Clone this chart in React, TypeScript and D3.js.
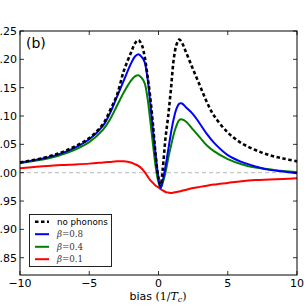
import React, { useEffect, useRef } from 'react';
import * as d3 from 'd3';

// bias grid shared by all curves (units of 1/T_c)
const bias = [-10, -8, -6.5, -5, -4, -3.5, -3, -2.5, -2, -1.7, -1.45, -1.2, -1.0, -0.8, -0.6, -0.4, -0.2, 0, 0.15, 0.3, 0.5, 0.7, 0.9, 1.1, 1.3, 1.5, 1.7, 2, 2.5, 3, 3.5, 4, 5, 6, 7, 8, 9, 10];

const noPhonons = [1.018, 1.028, 1.041, 1.061, 1.086, 1.11, 1.137, 1.18, 1.211, 1.228, 1.234, 1.225, 1.205, 1.172, 1.134, 1.085, 1.03, 0.99, 0.978, 1.005, 1.06, 1.10, 1.148, 1.2, 1.226, 1.235, 1.229, 1.212, 1.182, 1.153, 1.124, 1.101, 1.071, 1.052, 1.04, 1.031, 1.025, 1.02];
const beta08 = [1.018, 1.027, 1.039, 1.059, 1.083, 1.105, 1.134, 1.163, 1.192, 1.205, 1.209, 1.204, 1.195, 1.168, 1.125, 1.075, 1.03, 0.99, 0.973, 0.985, 1.01, 1.04, 1.07, 1.095, 1.113, 1.122, 1.122, 1.115, 1.103, 1.086, 1.068, 1.053, 1.031, 1.019, 1.011, 1.005, 1.002, 0.999];
const beta04 = [1.017, 1.025, 1.036, 1.054, 1.076, 1.094, 1.118, 1.142, 1.162, 1.17, 1.172, 1.167, 1.158, 1.133, 1.093, 1.05, 1.01, 0.983, 0.973, 0.982, 1.0, 1.025, 1.047, 1.068, 1.083, 1.093, 1.094, 1.09, 1.076, 1.062, 1.048, 1.038, 1.024, 1.015, 1.009, 1.006, 1.003, 1.001];
const beta01 = [1.008, 1.012, 1.014, 1.016, 1.018, 1.019, 1.02, 1.02, 1.018, 1.015, 1.012, 1.007, 1.001, 0.994, 0.987, 0.982, 0.977, 0.974, 0.971, 0.969, 0.966, 0.965, 0.964, 0.965, 0.966, 0.967, 0.968, 0.97, 0.973, 0.975, 0.977, 0.979, 0.982, 0.985, 0.987, 0.988, 0.989, 0.99];

const xTicks = [-10, -5, 0, 5, 10];
const yTicks = [0.85, 0.9, 0.95, 1.0, 1.05, 1.1, 1.15, 1.2, 1.25];

const series = [
  { key: 'no phonons', values: noPhonons, color: '#000000', dashed: true, beta: '' },
  { key: 'b08', values: beta08, color: '#0000ff', dashed: false, beta: '0.8' },
  { key: 'b04', values: beta04, color: '#008000', dashed: false, beta: '0.4' },
  { key: 'b01', values: beta01, color: '#ff0000', dashed: false, beta: '0.1' },
];

const W = 308;
const H = 306;

const App: React.FC = () => {
  const svgRef = useRef<SVGSVGElement>(null);

  useEffect(() => {
    if (!svgRef.current) return;
    const svg = d3.select(svgRef.current);
    svg.selectAll('*').remove();

    const left = 20, right = 297, top = 31, bottom = 275;

    const x = d3.scaleLinear().domain([-10, 10]).range([left, right]);
    const y = d3.scaleLinear().domain([0.8195, 1.25]).range([bottom, top]);

    // reference line at 1
    svg.append('line')
      .attr('x1', left).attr('x2', right)
      .attr('y1', y(1)).attr('y2', y(1))
      .attr('stroke', '#b8b8b8').attr('stroke-width', 1)
      .attr('stroke-dasharray', '4,3');

    const line = d3.line<number>()
      .x((_, i) => x(bias[i]))
      .y(d => y(d))
      .curve(d3.curveCatmullRom.alpha(0.5));

    // draw red first, dashed last
    [series[3], series[2], series[1], series[0]].forEach(s => {
      svg.append('path')
        .datum(s.values)
        .attr('fill', 'none')
        .attr('stroke', s.color)
        .attr('stroke-width', s.dashed ? 2.6 : 2)
        .attr('stroke-dasharray', s.dashed ? '3.5,2.5' : null)
        .attr('d', line);
    });

    // frame
    svg.append('rect')
      .attr('x', left).attr('y', top)
      .attr('width', right - left).attr('height', bottom - top)
      .attr('fill', 'none').attr('stroke', '#000').attr('stroke-width', 1);

    const tickLen = 4;
    const ticks = svg.append('g').attr('stroke', '#000').attr('stroke-width', 0.8);
    xTicks.forEach(t => {
      ticks.append('line').attr('x1', x(t)).attr('x2', x(t)).attr('y1', bottom).attr('y2', bottom - tickLen);
      ticks.append('line').attr('x1', x(t)).attr('x2', x(t)).attr('y1', top).attr('y2', top + tickLen);
    });
    yTicks.forEach(t => {
      ticks.append('line').attr('x1', left).attr('x2', left + tickLen).attr('y1', y(t)).attr('y2', y(t));
      ticks.append('line').attr('x1', right).attr('x2', right - tickLen).attr('y1', y(t)).attr('y2', y(t));
    });

    const font = 'DejaVu Sans, sans-serif';
    svg.append('g').selectAll('text')
      .data(xTicks).enter().append('text')
      .attr('x', d => x(d)).attr('y', 287)
      .attr('text-anchor', 'middle')
      .attr('font-family', font).attr('font-size', 11)
      .text(d => d3.format('d')(d).replace('-', '\u2212'));

    // y labels run off the left edge, as in the original figure
    svg.append('g').selectAll('text')
      .data(yTicks).enter().append('text')
      .attr('x', 17).attr('y', d => y(d))
      .attr('dy', '0.36em')
      .attr('text-anchor', 'end')
      .attr('font-family', font).attr('font-size', 11)
      .text(d => d3.format('.2f')(d));

    // x label
    const xl = svg.append('text')
      .attr('x', 158).attr('y', 300)
      .attr('text-anchor', 'middle')
      .attr('font-family', font).attr('font-size', 11);
    xl.append('tspan').text('bias ');
    xl.append('tspan').attr('font-family', 'DejaVu Serif, serif').text('(1/');
    xl.append('tspan').attr('font-family', 'DejaVu Serif, serif').attr('font-style', 'italic').text('T');
    xl.append('tspan').attr('font-family', 'DejaVu Serif, serif').attr('font-style', 'italic').attr('font-size', 8).attr('dy', 2).text('c');
    xl.append('tspan').attr('font-family', 'DejaVu Serif, serif').attr('dy', -2).text(')');

    svg.append('text')
      .attr('x', 26).attr('y', 48)
      .attr('font-family', font).attr('font-size', 14)
      .text('(b)');

    // legend
    const lg = svg.append('g');
    lg.append('rect')
      .attr('x', 29.5).attr('y', 214.5).attr('width', 82).attr('height', 52)
      .attr('fill', '#fff').attr('stroke', '#222').attr('stroke-width', 1);
    const rowY = [221.7, 234.2, 246.8, 259.2];
    series.forEach((s, i) => {
      lg.append('line')
        .attr('x1', 35).attr('x2', 49)
        .attr('y1', rowY[i]).attr('y2', rowY[i])
        .attr('stroke', s.color)
        .attr('stroke-width', s.dashed ? 2.6 : 2)
        .attr('stroke-dasharray', s.dashed ? '3.5,2.5' : null);
      const t = lg.append('text')
        .attr('x', 57).attr('y', rowY[i]).attr('dy', '0.35em')
        .attr('font-size', 8.7);
      if (s.dashed) {
        t.attr('font-family', font).text(s.key);
      } else {
        t.attr('font-family', 'DejaVu Serif, serif').attr('fill', '#333');
        t.append('tspan').attr('font-style', 'italic').text('\u03b2');
        t.append('tspan').text('=' + s.beta);
      }
    });
  }, []);

  return (
    <div style={{ position: 'fixed', left: 0, top: 0 }}>
      <svg ref={svgRef} width={W} height={H} style={{ display: 'block', background: '#fff' }}></svg>
    </div>
  );
};

export default App;
